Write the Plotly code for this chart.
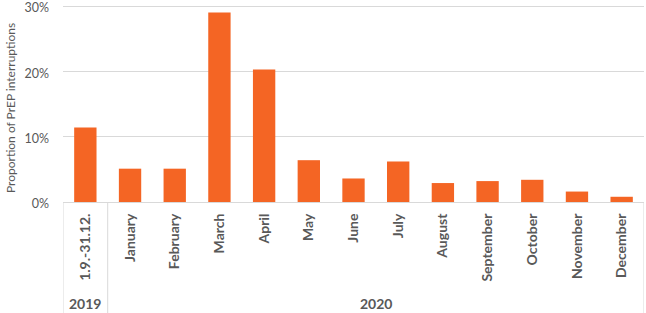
import plotly.graph_objects as go

categories = ["1.9.-31.12.", "January", "February", "March", "April", "May", "June",
              "July", "August", "September", "October", "November", "December"]
values = [11.4, 5.1, 5.1, 29.0, 20.3, 6.4, 3.6, 6.2, 2.9, 3.2, 3.4, 1.6, 0.8]
years = ["2019", "2020"]
year_spans = [(0, 0), (1, 12)]

TXT = "#595959"
GRID = "#D9D9D9"
FONT = "Lato, 'Open Sans', sans-serif"

fig = go.Figure(go.Bar(
    x=categories, y=[v / 100 for v in values],
    marker=dict(color="#F46524", line=dict(width=0)),
    width=0.5,
))

L, R, T, B = 63, 2, 0, 111
W, H = 646, 313
plot_w = W - L - R
plot_h = H - T - B
y_top = 0.3 + 6 / 653

for yr, (a, b) in zip(years, year_spans):
    fig.add_annotation(x=(a + b) / 2, y=-(303 - (H - B)) / plot_h, xref="x", yref="paper",
                       text=f"<b>{yr}</b>", showarrow=False,
                       font=dict(size=14, color=TXT, family=FONT),
                       xanchor="center", yanchor="middle")

fig.add_annotation(x=(10 - L) / plot_w, y=((H - B) - 108) / plot_h, xref="paper", yref="paper",
                   text="Proportion of PrEP interruptions", textangle=-90, showarrow=False,
                   font=dict(size=12, color=TXT, family=FONT),
                   xanchor="center", yanchor="middle")

for xpos in [-0.5, 0.5, 12.5]:
    fig.add_shape(type="line", xref="x", yref="paper", x0=xpos, x1=xpos,
                  y0=0, y1=-0.6, line=dict(color=GRID, width=1))

fig.update_layout(
    width=W, height=H,
    margin=dict(l=L, r=R, t=T, b=B, autoexpand=False),
    plot_bgcolor="white", paper_bgcolor="white",
    showlegend=False, bargap=0.5,
    font=dict(family=FONT, color=TXT),
)
fig.update_xaxes(
    type="category", range=[-0.5, 12.5], automargin=False,
    tickangle=-90, tickfont=dict(size=14, color=TXT, family=FONT),
    showline=True, linecolor=GRID, linewidth=1,
    showgrid=False, ticks="", ticklabelstandoff=5,
    tickprefix="<b>", ticksuffix="</b>",
)
fig.update_yaxes(
    range=[0, y_top], tickvals=[0, 0.1, 0.2, 0.3], tickformat=".0%",
    automargin=False, ticklabeloverflow="allow",
    showgrid=True, gridcolor=GRID, gridwidth=1,
    zeroline=False, showline=False, ticks="",
    tickfont=dict(size=12.5, color=TXT, family=FONT),
    tickprefix="<b>", ticksuffix="</b>",
    ticklabelstandoff=13, ticklabelshift=2,
)

fig.write_html("out.html", config={"displayModeBar": False},
               post_script="document.body.style.margin='0';")
